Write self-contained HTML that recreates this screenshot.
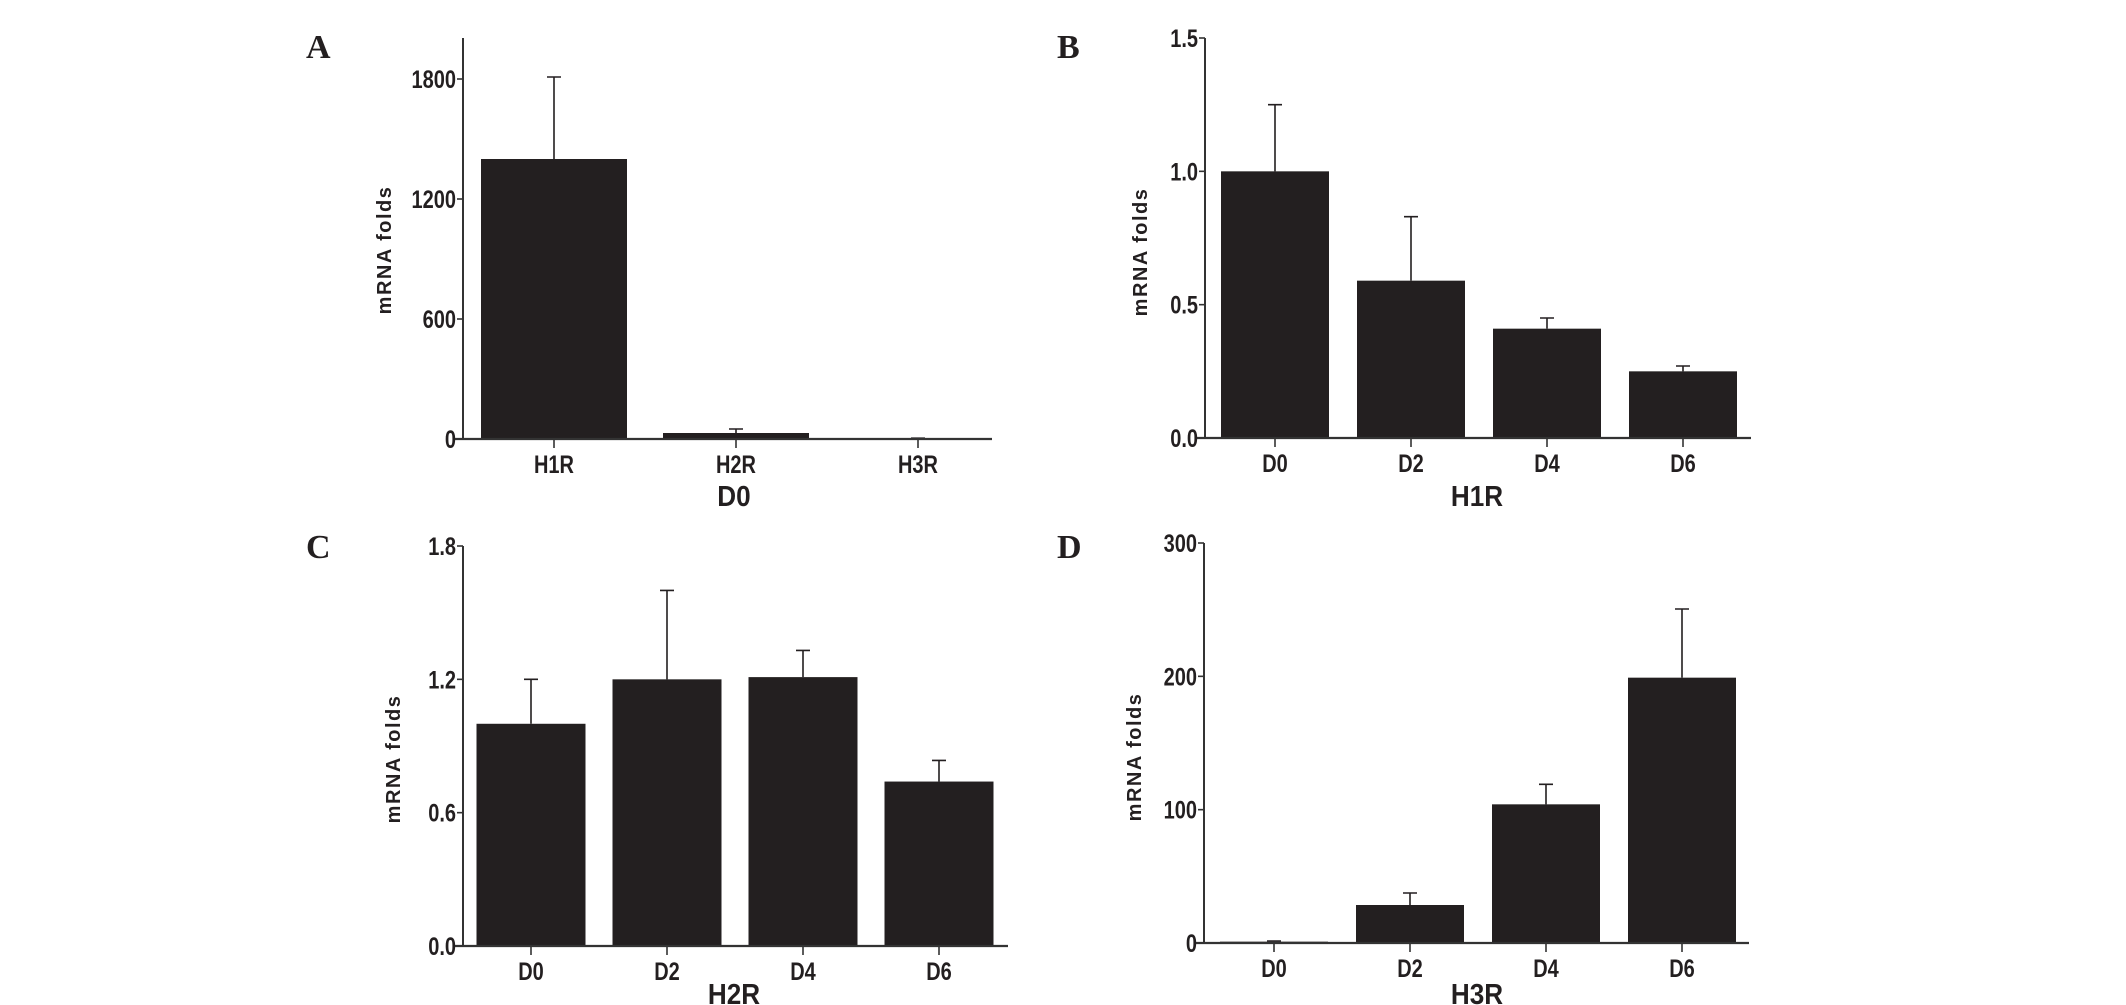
<!DOCTYPE html>
<html><head><meta charset="utf-8"><style>
html,body{margin:0;padding:0;background:#fff}
svg{display:block}
.tick{font-family:"Liberation Sans",sans-serif;font-weight:bold;font-size:25px;fill:#231f20}
.ttl{font-family:"Liberation Sans",sans-serif;font-weight:bold;font-size:29px;fill:#231f20}
.ylab{font-family:"Liberation Sans",sans-serif;font-weight:bold;font-size:20px;letter-spacing:1.5px;fill:#231f20}
.let{font-family:"Liberation Serif",serif;font-weight:bold;font-size:34px;fill:#231f20}
</style></head><body>
<svg id="fig" width="2126" height="1005" viewBox="0 0 2126 1005"></svg>
<script>
// Panel A data
const catsA = ["H1R","H2R","H3R"];
const valsA = [1400, 30, 2];
const errA = [1810, 50, 4];
const ticksA = [0, 600, 1200, 1800];
const tickLabelsA = ["0","600","1200","1800"];
// Panel B data
const catsB = ["D0","D2","D4","D6"];
const valsB = [1.0, 0.59, 0.41, 0.25];
const errB = [1.25, 0.83, 0.45, 0.27];
const ticksB = [0, 0.5, 1.0, 1.5];
const tickLabelsB = ["0.0","0.5","1.0","1.5"];
// Panel C data
const catsC = ["D0","D2","D4","D6"];
const valsC = [1.0, 1.2, 1.21, 0.74];
const errC = [1.2, 1.6, 1.33, 0.835];
const ticksC = [0, 0.6, 1.2, 1.8];
const tickLabelsC = ["0.0","0.6","1.2","1.8"];
// Panel D data
const catsD = ["D0","D2","D4","D6"];
const valsD = [1, 28.5, 104, 199];
const errD = [1.5, 37.5, 119, 250.5];
const ticksD = [0, 100, 200, 300];
const tickLabelsD = ["0","100","200","300"];

const NS = "http://www.w3.org/2000/svg";
const svg = document.getElementById("fig");
const SX = 0.8;
function mk(tag, attrs, parent, text) {
  const e = document.createElementNS(NS, tag);
  for (const k in attrs) e.setAttribute(k, attrs[k]);
  if (text !== undefined) e.textContent = text;
  parent.appendChild(e);
  return e;
}
function panel(o) {
  const g = mk("g", {}, svg);
  
  
  const y = v => o.y0 - (v - 0) / o.max * (o.y0 - o.yTop);
  const cx = i => o.x0 + (i + 0.5) * o.step;
  const L = mk("text", {x: o.letX, y: o.letY, class: "let"}, g, o.id);
  
  
  o.cats.forEach((c, i) => {
    const top = y(o.vals[i]);
    const r = mk("rect", {x: cx(i) - o.bw / 2, y: top, width: o.bw, height: Math.max(o.y0 - top, 1), fill: "#231f20"}, g);
    
    
    const et = y(o.errs[i]);
    const el = mk("path", {d: `M${cx(i)},${top} V${et} M${cx(i)-7},${et} H${cx(i)+7}`, stroke: "#231f20", "stroke-width": 1.6, fill: "none"}, g);
    
    
    const tk = mk("line", {x1: cx(i), x2: cx(i), y1: o.y0, y2: o.y0 + 9, stroke: "#333", "stroke-width": 1.6}, g);
    
    
    const tl = mk("text", {x: cx(i), y: o.y0 + 34, class: "tick", "text-anchor": "middle", transform: `translate(${cx(i)*(1-SX)},0) scale(${SX},1)`}, g, c);
    
    
  });
  const ya = mk("line", {x1: o.ax, x2: o.ax, y1: o.axTop, y2: o.y0 + 1, stroke: "#333", "stroke-width": 2}, g);
  
  
  const xa = mk("line", {x1: o.ax - 9, x2: o.xEnd, y1: o.y0, y2: o.y0, stroke: "#333", "stroke-width": 2.2}, g);
  
  
  o.ticks.forEach((t, i) => {
    const ty = y(t);
    const tk = mk("line", {x1: o.ax - 6, x2: o.ax, y1: ty, y2: ty, stroke: "#333", "stroke-width": 1.6}, g);
    
    
    const tx = o.ax - 7;
    const tl = mk("text", {x: tx, y: ty + 9, class: "tick", "text-anchor": "end", transform: `translate(${tx*(1-SX)},0) scale(${SX},1)`}, g, o.tickLabels[i]);
    
    
  });
  const yt = mk("text", {x: 0, y: 0, class: "ylab", "text-anchor": "middle", transform: `translate(${o.ylX},${o.ylY}) rotate(-90)`, "xml:space": "preserve"}, g, "mRNA  folds");
  
  
  const tt = mk("text", {x: o.ttlX, y: o.ttlY, class: "ttl", "text-anchor": "middle", transform: `translate(${o.ttlX*0.1},0) scale(0.9,1)`}, g, o.title);
  
  
}
panel({id:"A", cats:catsA, vals:valsA, errs:errA, ticks:ticksA, tickLabels:tickLabelsA, max:1800,
  ax:463, axTop:38, y0:439, yTop:79, x0:463, step:182, bw:146, xEnd:992,
  letX:306, letY:58, ylX:391, ylY:250, ttlX:734, ttlY:506, title:"D0"});
panel({id:"B", cats:catsB, vals:valsB, errs:errB, ticks:ticksB, tickLabels:tickLabelsB, max:1.5,
  ax:1205, axTop:38, y0:438, yTop:38, x0:1207, step:136, bw:108, xEnd:1751,
  letX:1057, letY:58, ylX:1147, ylY:252, ttlX:1477, ttlY:506, title:"H1R"});
panel({id:"C", cats:catsC, vals:valsC, errs:errC, ticks:ticksC, tickLabels:tickLabelsC, max:1.8,
  ax:463, axTop:546, y0:946, yTop:546, x0:463, step:136, bw:109, xEnd:1008,
  letX:306, letY:558, ylX:400, ylY:759, ttlX:734, ttlY:1004, title:"H2R"});
panel({id:"D", cats:catsD, vals:valsD, errs:errD, ticks:ticksD, tickLabels:tickLabelsD, max:300,
  ax:1204, axTop:543, y0:943, yTop:543, x0:1206, step:136, bw:108, xEnd:1749,
  letX:1057, letY:558, ylX:1141, ylY:757, ttlX:1477, ttlY:1004, title:"H3R"});
</script>
</body></html>
